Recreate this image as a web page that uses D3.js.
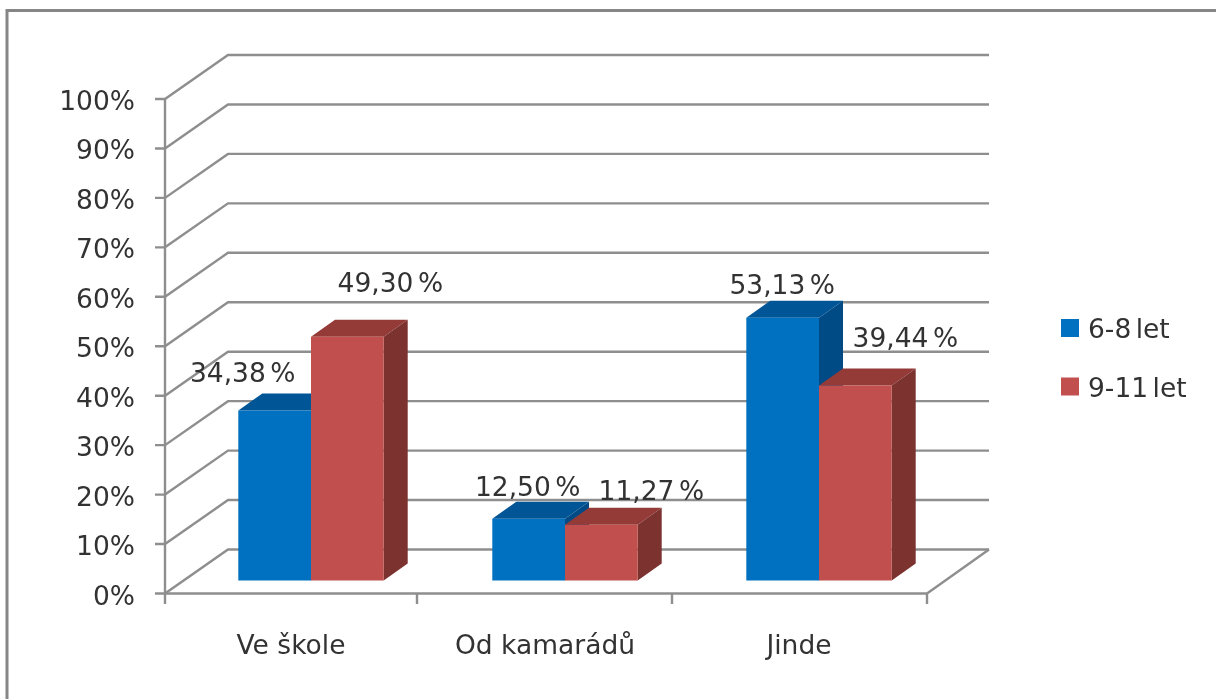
<!DOCTYPE html>
<html><head><meta charset="utf-8">
<script src="https://cdn.jsdelivr.net/npm/d3@7"></script>
<style>html,body{margin:0;padding:0;background:#fff;overflow:hidden}svg{display:block}
text{font-family:"DejaVu Sans",sans-serif;fill:#333}</style></head>
<body><svg id="c" width="1216" height="699"></svg>
<script>
const categories = ["Ve škole", "Od kamarádů", "Jinde"];
const seriesNames = ["6-8 let", "9-11 let"];
const series6to8 = [34.38, 12.50, 53.13];
const series9to11 = [49.30, 11.27, 39.44];
const tickValues = [0,10,20,30,40,50,60,70,80,90,100];

const svg = d3.select("#c");
const defs = svg.append("defs");
defs.append("filter").attr("id","soft").attr("x","-5%").attr("y","-5%").attr("width","110%").attr("height","110%")
  .append("feGaussianBlur").attr("stdDeviation",0.55);
const root = svg.append("g").attr("filter","url(#soft)");

const grey = "#8e8e8e";
const M = {left:165, right:927, y0:593.5, y100:99};
const wall = {dx:63, dy:-44};
const y = d3.scaleLinear().domain([0,100]).range([M.y0,M.y100]);
const xBand = d3.scaleBand().domain(categories).range([M.left,M.right]);
const bar = {w:72.7, dx:24, dy:-17, shiftX:19, shiftY:-13};
const colors = [
  {front:"#0070c0", top:"#005596", side:"#004c85"},
  {front:"#c0504d", top:"#943a38", side:"#7b312f"}
];

// outer frame
root.append("path").attr("d","M7,699V10.5H1216").attr("fill","none").attr("stroke","#868686").attr("stroke-width",3);

// walls and gridlines
const line = (pts,w=2.4)=>root.append("path").attr("d",d3.line()(pts)).attr("fill","none").attr("stroke",grey).attr("stroke-width",w);
tickValues.forEach(t=>{
  const yy=y(t);
  line([[M.left-10,yy],[M.left,yy],[M.left+wall.dx,yy+wall.dy],[M.right+wall.dx-1,yy+wall.dy]]);
});
line([[M.right,M.y0],[M.right+wall.dx-1,M.y0+wall.dy]]);
line([[M.left,y(100)],[M.left,M.y0]]);
line([[M.left,M.y0],[M.right,M.y0]]);
xBand.domain().concat([null]).forEach((c,i)=>{
  const xx = i<categories.length ? xBand(c) - (i===1?2:i===2?1:0) : M.right;
  line([[xx,M.y0],[xx,M.y0+10.5]]);
});

// axis labels
const axisFont = 26.5;
root.selectAll(".yl").data(tickValues).join("text")
  .attr("x",135).attr("y",t=>y(t)+11).attr("text-anchor","end")
  .attr("font-size",axisFont).text(t=>t+"%");
root.selectAll(".xl").data(categories).join("text")
  .attr("x",c=>xBand(c)+xBand.bandwidth()/2-1).attr("y",654).attr("text-anchor","middle")
  .attr("font-size",axisFont).text(c=>c);

// bars
const bars = [series6to8, series9to11];
const yBase = v => y(v)+bar.shiftY;
categories.forEach((c,ci)=>{
  const cx = xBand(c)+xBand.bandwidth()/2+bar.shiftX;
  bars.forEach((vals,si)=>{
    const v=vals[ci], x0=cx+(si-1)*bar.w, x1=x0+bar.w, yt=yBase(v), yb=yBase(0), col=colors[si];
    const g=root.append("g");
    g.append("path").attr("fill",col.top).attr("d",d3.line()([[x0,yt],[x0+bar.dx,yt+bar.dy],[x1+bar.dx,yt+bar.dy],[x1,yt]])+"Z");
    g.append("path").attr("fill",col.side).attr("d",d3.line()([[x1,yt],[x1+bar.dx,yt+bar.dy],[x1+bar.dx,yb+bar.dy],[x1,yb]])+"Z");
    g.append("path").attr("fill",col.front).attr("d",d3.line()([[x0,yt],[x1,yt],[x1,yb],[x0,yb]])+"Z");
  });
});

// data labels (manually placed in the original, offset from each bar's top centre)
const labelOffsets = [
  [[-32,-28],[43,-45]],
  [[-1,-23],[50,-25]],
  [[-.5,-24],[50,-38]]
];
const fmt = v => v.toFixed(2).replace(".",",")+" %";
categories.forEach((c,ci)=>{
  const cx = xBand(c)+xBand.bandwidth()/2+bar.shiftX;
  bars.forEach((vals,si)=>{
    const v=vals[ci], [ox,oy]=labelOffsets[ci][si];
    root.append("text").attr("x",cx+(si-.5)*bar.w+ox).attr("y",yBase(v)+oy)
      .attr("text-anchor","middle").attr("font-size",axisFont).attr("word-spacing",-4).text(fmt(v));
  });
});

// legend
const leg = root.selectAll(".lg").data(seriesNames).join("g").attr("transform",(d,i)=>`translate(1061,${319+i*58.5})`);
leg.append("rect").attr("width",18).attr("height",18).attr("fill",(d,i)=>colors[i].front);
leg.append("text").attr("x",27).attr("y",19).attr("font-size",axisFont).attr("word-spacing",-4).text(d=>d);
</script></body></html>
